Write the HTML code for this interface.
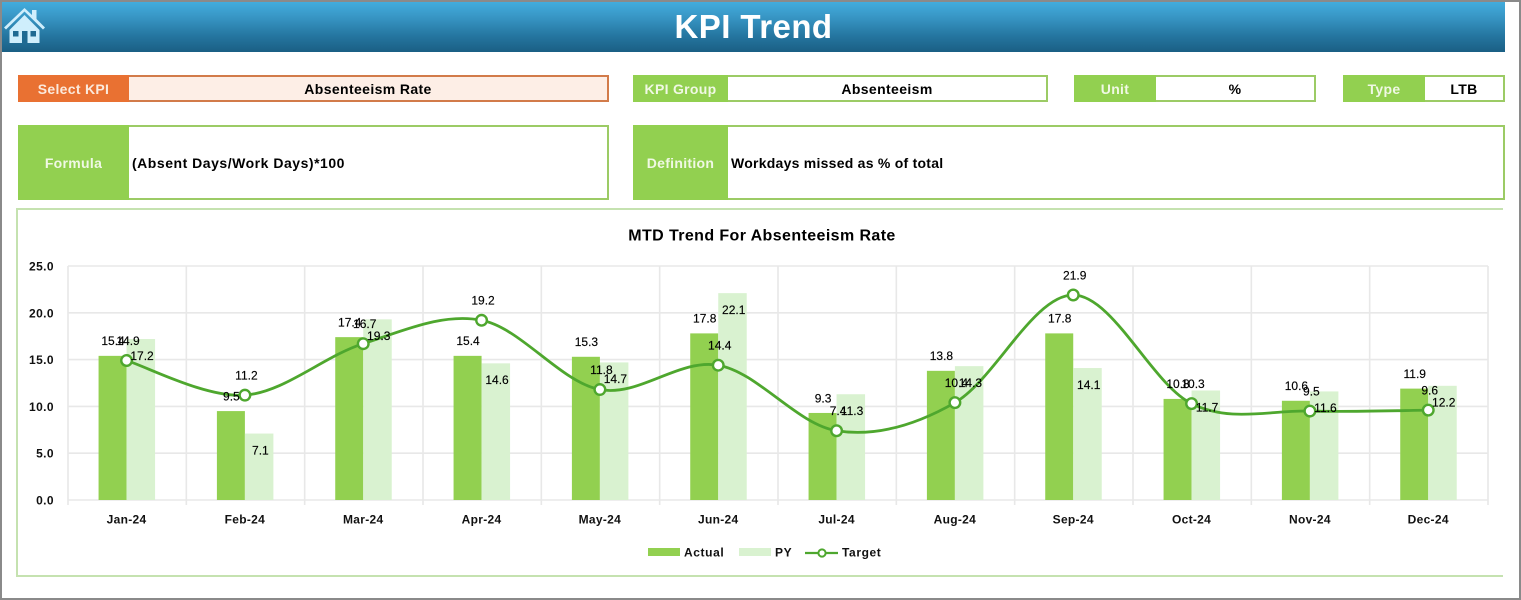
<!DOCTYPE html>
<html lang="en">
<head>
<meta charset="utf-8">
<title>KPI Trend</title>
<style>
html,body{margin:0;padding:0;background:#fff}
body{width:1521px;height:600px;position:relative;overflow:hidden;font-family:"Liberation Sans",sans-serif}
.frame{position:absolute;left:0;top:0;width:1517px;height:596px;border:2px solid #8a8a8a;pointer-events:none;z-index:5}
.header{position:absolute;left:2px;top:2px;width:1503px;height:50px;background:linear-gradient(#42ACDD,#3A9AC9 25%,#24749E 70%,#1A5F84)}
.title{position:absolute;left:0;top:0;width:1503px;line-height:50px;text-align:center;color:#fff;font-size:33px;font-weight:bold;letter-spacing:.45px}
.box{position:absolute;box-sizing:border-box;border:2px solid #9CCB65;background:#fff}
.lab{position:absolute;top:-2px;bottom:-2px;left:-2px;background:#92D050;color:#F0F8E4;font-size:14px;font-weight:bold;letter-spacing:.3px;display:flex;align-items:center;justify-content:center}
.val{position:absolute;top:0;bottom:0;right:0;display:flex;align-items:center;justify-content:center;color:#000;font-size:14px;font-weight:bold;letter-spacing:.38px}
.val.left{justify-content:flex-start;padding-left:3px}
.panel{position:absolute;left:16px;top:208px;width:1487px;height:369px;box-sizing:border-box;border:2px solid #C5E2B0;border-right:none}
svg{position:absolute;left:0;top:0}
</style>
</head>
<body>
<div class="header">
  <div class="title">KPI Trend</div>
</div>
<svg width="50" height="50" style="left:0;top:0">
  <path d="M4 27.500 L24.500 8 L32 15 L32 10 L36.500 10 L36.500 19 L45 27.500 L43 29.500 L24.500 11.500 L6 29.500 Z" fill="#CFEEFC"/>
  <path d="M9.500 30 L24.500 15 L39.500 30 L39.500 43 L9.500 43 Z" fill="#CFEEFC"/>
  <rect x="13" y="31" width="5.500" height="5.500" fill="#1F6A92"/>
  <rect x="30.500" y="31" width="5.500" height="5.500" fill="#1F6A92"/>
  <rect x="22" y="31" width="5.500" height="12" fill="#1F6A92"/>
</svg>

<div class="box" style="left:18px;top:75px;width:591px;height:27px;border-color:#D27B4A;background:#FDEEE6">
  <div class="lab" style="width:111px;background:#E97132;color:#FBE9DC">Select KPI</div>
  <div class="val" style="left:109px">Absenteeism Rate</div>
</div>
<div class="box" style="left:633px;top:75px;width:415px;height:27px">
  <div class="lab" style="width:95px">KPI Group</div>
  <div class="val" style="left:93px">Absenteeism</div>
</div>
<div class="box" style="left:1074px;top:75px;width:242px;height:27px">
  <div class="lab" style="width:82px">Unit</div>
  <div class="val" style="left:80px">%</div>
</div>
<div class="box" style="left:1343px;top:75px;width:162px;height:27px">
  <div class="lab" style="width:82px">Type</div>
  <div class="val" style="left:80px">LTB</div>
</div>
<div class="box" style="left:18px;top:125px;width:591px;height:75px">
  <div class="lab" style="width:111px">Formula</div>
  <div class="val left" style="left:109px;letter-spacing:.52px">(Absent Days/Work Days)*100</div>
</div>
<div class="box" style="left:633px;top:125px;width:872px;height:75px">
  <div class="lab" style="width:95px">Definition</div>
  <div class="val left" style="left:93px;letter-spacing:.25px">Workdays missed as % of total</div>
</div>

<div class="panel"></div>
<svg id="chart" width="1521" height="600"></svg>
<div class="frame"></div>

<script>
const categories = ["Jan-24","Feb-24","Mar-24","Apr-24","May-24","Jun-24","Jul-24","Aug-24","Sep-24","Oct-24","Nov-24","Dec-24"];
const actualValues = [15.4,9.5,17.4,15.4,15.3,17.8,9.3,13.8,17.8,10.8,10.6,11.9];
const pyValues = [17.2,7.1,19.3,14.6,14.7,22.1,11.3,14.3,14.1,11.7,11.6,12.2];
const targetValues = [14.9,11.2,16.7,19.2,11.8,14.4,7.4,10.4,21.9,10.3,9.5,9.6];
const yTicks = [0,5,10,15,20,25];

const NS = "http://www.w3.org/2000/svg";
const svg = document.getElementById("chart");
const plot = {left:68, right:1488, top:266, bottom:500, max:25};
const band = (plot.right - plot.left) / categories.length;
const xCenter = i => plot.left + band * (i + 0.5) - 0.6;
const yScale = v => plot.bottom - (v / plot.max) * (plot.bottom - plot.top);
const axisFont = '"Liberation Sans",sans-serif';

function make(tag, attrs, text) {
  const el = document.createElementNS(NS, tag);
  for (const k in attrs) el.setAttribute(k, attrs[k]);
  if (text !== undefined) el.textContent = text;
  return el;
}

const title = make("text", {x:762, y:240.500, "text-anchor":"middle", "font-family":axisFont, "font-size":16, "font-weight":"bold", "letter-spacing":"0.4", fill:"#000"}, "MTD Trend For Absenteeism Rate");


svg.appendChild(title);

yTicks.forEach(t => {
  const y = yScale(t);
  const line = make("line", {x1:plot.left, x2:plot.right, y1:y, y2:y, stroke:"#E8E8E8", "stroke-width":1.6});
  
  
  svg.appendChild(line);
  const label = make("text", {x:54, y:y + 4.500, "text-anchor":"end", "font-family":axisFont, "font-size":12, "font-weight":"bold", "letter-spacing":"0.4", fill:"#111"}, t.toFixed(1));
  
  
  svg.appendChild(label);
});

for (let i = 0; i <= categories.length; i++) {
  const x = plot.left + band * i;
  const line = make("line", {x1:x, x2:x, y1:plot.top, y2:plot.bottom + 5, stroke:"#E8E8E8", "stroke-width":1.6});
  
  
  svg.appendChild(line);
}

const barW = 28;
categories.forEach((c, i) => {
  const x = xCenter(i);
  const a = make("rect", {x:x - barW, y:yScale(actualValues[i]), width:barW, height:plot.bottom - yScale(actualValues[i]), fill:"#92D050"});
  
  
  svg.appendChild(a);
  const p = make("rect", {x:x, y:yScale(pyValues[i]), width:barW + 0.5, height:plot.bottom - yScale(pyValues[i]), fill:"#D9F2D0"});
  
  
  svg.appendChild(p);
  const lab = make("text", {x:x, y:523.500, "text-anchor":"middle", "font-family":axisFont, "font-size":12, "font-weight":"bold", "letter-spacing":"0.3", fill:"#111"}, c);
  
  
  svg.appendChild(lab);
});

const pts = targetValues.map((v, i) => [xCenter(i), yScale(v)]);
let d = "M" + pts[0][0] + " " + pts[0][1];
for (let i = 0; i < pts.length - 1; i++) {
  const p0 = pts[Math.max(i - 1, 0)], p1 = pts[i], p2 = pts[i + 1], p3 = pts[Math.min(i + 2, pts.length - 1)];
  const c1x = p1[0] + (p2[0] - p0[0]) / 6, c1y = p1[1] + (p2[1] - p0[1]) / 6;
  const c2x = p2[0] - (p3[0] - p1[0]) / 6, c2y = p2[1] - (p3[1] - p1[1]) / 6;
  d += " C" + c1x + " " + c1y + " " + c2x + " " + c2y + " " + p2[0] + " " + p2[1];
}
const targetLine = make("path", {d:d, fill:"none", stroke:"#4EA72E", "stroke-width":2.8, "stroke-linecap":"round"});


svg.appendChild(targetLine);

pts.forEach(pt => {
  const m = make("circle", {cx:pt[0], cy:pt[1], r:5.3, fill:"#fff", stroke:"#4EA72E", "stroke-width":2.4});
  
  
  svg.appendChild(m);
});

function dataLabel(x, y, value, name) {
  const t = make("text", {x:x, y:y + 4.300, "text-anchor":"middle", "font-family":axisFont, "font-size":12, stroke:"#000", "stroke-width":0.15, fill:"#000"}, value.toFixed(1));
  
  
  svg.appendChild(t);
}
categories.forEach((c, i) => {
  const x = xCenter(i);
  dataLabel(x - 13.500, yScale(actualValues[i]) - 15, actualValues[i], 'actual-value-label');
  dataLabel(x + 15.500, yScale(pyValues[i]) + 16.500, pyValues[i], 'py-value-label');
  dataLabel(x + 1.500, yScale(targetValues[i]) - 20, targetValues[i], 'target-value-label');
});

const legendActualSwatch = make("rect", {x:648, y:548, width:32, height:8, fill:"#92D050"});


svg.appendChild(legendActualSwatch);
const legendActualText = make("text", {x:684, y:556.500, "font-family":axisFont, "font-size":12, "font-weight":"bold", "letter-spacing":"0.6", fill:"#111"}, "Actual");


svg.appendChild(legendActualText);
const legendPySwatch = make("rect", {x:739, y:548, width:32, height:8, fill:"#D9F2D0"});


svg.appendChild(legendPySwatch);
const legendPyText = make("text", {x:775, y:556.500, "font-family":axisFont, "font-size":12, "font-weight":"bold", "letter-spacing":"0.6", fill:"#111"}, "PY");


svg.appendChild(legendPyText);
const legendTargetLine = make("line", {x1:805, x2:838, y1:553, y2:553, stroke:"#4EA72E", "stroke-width":2.2});


svg.appendChild(legendTargetLine);
const legendTargetMarker = make("circle", {cx:822, cy:553, r:3.6, fill:"#fff", stroke:"#4EA72E", "stroke-width":2});


svg.appendChild(legendTargetMarker);
const legendTargetText = make("text", {x:842, y:556.500, "font-family":axisFont, "font-size":12, "font-weight":"bold", "letter-spacing":"0.6", fill:"#111"}, "Target");


svg.appendChild(legendTargetText);
</script>
</body>
</html>
